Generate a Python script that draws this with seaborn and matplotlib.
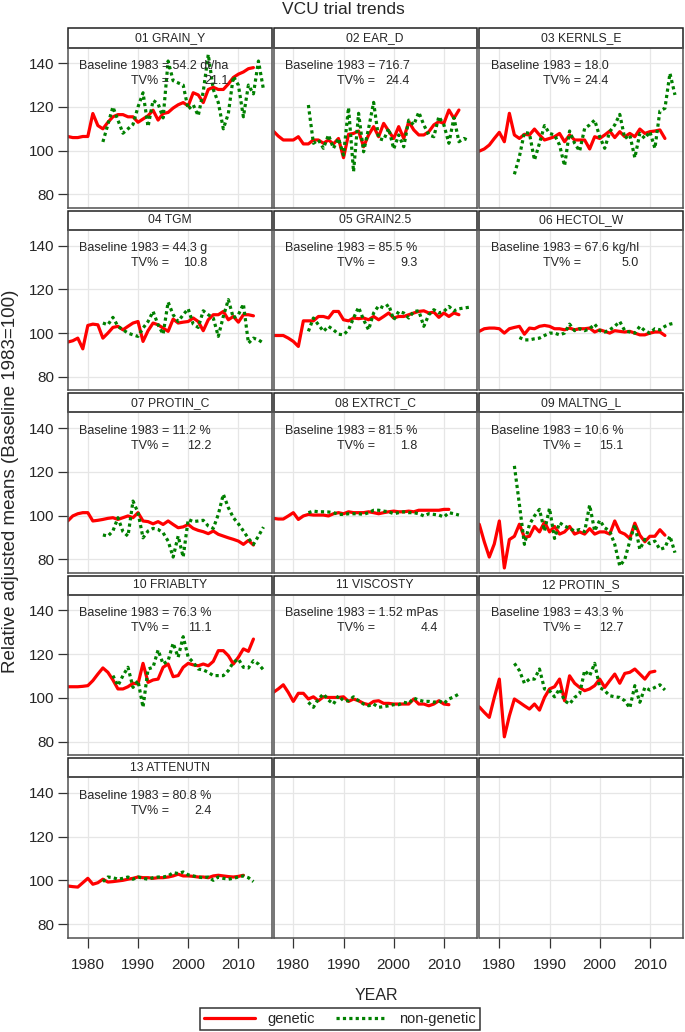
import numpy as np
import pandas as pd
import matplotlib
matplotlib.use("Agg")
import matplotlib.pyplot as plt
from matplotlib.lines import Line2D
from matplotlib.patches import Rectangle
import seaborn as sns

panel_names = ["01 GRAIN_Y", "02 EAR_D", "03 KERNLS_E", "04 TGM", "05 GRAIN2.5",
               "06 HECTOL_W", "07 PROTIN_C", "08 EXTRCT_C", "09 MALTNG_L",
               "10 FRIABLTY", "11 VISCOSTY", "12 PROTIN_S", "13 ATTENUTN"]
baselines = ["54.2 dt/ha", "716.7", "18.0", "44.3 g", "85.5 %", "67.6 kg/hl", "11.2 %",
             "81.5 %", "10.6 %", "76.3 %", "1.52 mPas", "43.3 %", "80.8 %"]
tv_values = ["21.1", "24.4", "24.4", "10.8", "9.3", "5.0", "12.2", "1.8", "15.1",
             "11.1", "4.4", "12.7", "2.4"]

# first year of each series
genetic_start = [1976, 1976, 1976, 1976, 1976, 1976, 1976, 1976, 1976, 1976, 1976, 1976, 1976]
nongenetic_start = [1983, 1983, 1983, 1983, 1983, 1984, 1983, 1983, 1983, 1985, 1983, 1983, 1983]

g01 = [106.5, 106, 106, 106.5, 106.5, 117, 111.5, 110, 113, 115.5, 116.5, 116.5, 115.5, 115.5,
       113, 114.5, 116, 118.5, 114, 117, 117.5, 119.5, 121, 122, 120.5, 126.5, 125.5, 122,
       128, 129, 128, 128, 130.5, 133.5, 135, 136, 137.5, 138]
n01 = [104, 112, 120, 114, 108, 110, 112, 120, 126.5, 111, 123, 121.5, 115, 141, 132, 131,
       130, 119, 121, 116, 127, 144, 128, 122, 110, 117, 134, 130, 115.5, 130, 126, 141, 128]
g02 = [109.0, 106.7, 104.9, 104.9, 104.9, 106.4, 103.1, 103.1, 104.9, 104.9, 103.4, 104.9,
       103.1, 105.6, 96.8, 107.5, 107.9, 109.0, 101.8, 107.2, 111.0, 106.4, 112.5, 109.0,
       105.6, 111.0, 105.6, 113.3, 109.5, 107.2, 107.2, 108.7, 111.8, 113.3, 112.5, 118.6,
       114.8, 118.6]
n02 = [120.9, 103.4, 104.9, 101.1, 107.2, 101.1, 105.6, 98.0, 119.7, 90.4, 117.1, 99.5,
       110.2, 122.1, 105.6, 104.9, 110.2, 100.8, 107.2, 101.8, 114.0, 111.8, 117.6, 111.8,
       107.2, 106.4, 115.6, 111.8, 103.4, 115.1, 104.1, 105.6, 104.6]
g03 = [99.8, 100.8, 102.6, 105.6, 108.4, 104.1, 117.1, 107.2, 105.6, 107.5, 107.2, 109.9,
       107.2, 104.9, 105.6, 106.4, 107.9, 104.1, 107.2, 104.9, 104.9, 104.9, 100.8, 106.4,
       105.6, 107.2, 109.0, 106.0, 108.7, 106.4, 107.9, 106.4, 109.9, 107.9, 108.7, 109.0,
       109.5, 105.6]
n03 = [89.2, 97.3, 108.4, 107.9, 95.7, 103.4, 111.5, 107.9, 107.2, 102.6, 93.1, 109.0,
       103.4, 99.8, 110.2, 111.8, 114.0, 106.4, 101.1, 108.7, 111.8, 116.6, 105.6, 107.2,
       96.8, 107.9, 105.6, 108.7, 101.1, 118.2, 119.4, 135.4, 125.5]
g04 = [95.9, 96.5, 97.7, 92.8, 103.5, 104.1, 103.8, 97.7, 100.0, 102.6, 103.1, 101.5, 103.1,
       104.6, 105.3, 96.2, 101.1, 104.6, 103.8, 102.3, 100.8, 106.4, 104.6, 105.0, 105.3,
       106.9, 105.3, 101.1, 106.1, 108.4, 108.4, 109.9, 106.1, 107.6, 105.0, 108.4, 108.4,
       107.9]
n04 = [104.6, 103.8, 107.2, 103.1, 101.5, 100.0, 99.2, 98.5, 102.3, 105.3, 109.9, 103.8,
       99.5, 114.2, 108.4, 105.3, 108.4, 111.1, 104.1, 102.6, 110.2, 108.4, 106.9, 98.5,
       107.6, 115.3, 106.9, 108.4, 113.3, 95.4, 97.7, 96.9, 95.4]
g05 = [98.9, 98.9, 98.9, 97.7, 96.2, 93.9, 105.6, 105.6, 105.6, 107.6, 107.6, 106.9, 109.9,
       109.9, 106.1, 105.6, 106.9, 106.6, 106.9, 106.1, 107.6, 106.1, 107.6, 109.2, 106.9,
       107.6, 107.6, 108.4, 109.2, 109.9, 110.2, 109.2, 109.6, 107.2, 109.2, 107.6, 109.2,
       108.4]
n05 = [100.8, 106.9, 103.8, 100.8, 103.1, 101.5, 99.5, 99.2, 101.5, 106.9, 111.8, 106.1,
       101.5, 109.2, 112.5, 111.5, 113.0, 106.1, 109.9, 109.2, 106.9, 109.9, 110.2, 103.1,
       108.4, 110.7, 109.2, 109.9, 112.2, 110.2, 111.1, 111.5, 111.8]
g06 = [100.8, 102.0, 102.3, 102.3, 102.0, 100.0, 102.0, 102.6, 103.1, 99.5, 102.3, 102.0,
       103.1, 103.5, 103.1, 102.0, 102.0, 101.5, 102.3, 101.5, 102.0, 102.0, 102.3, 100.5,
       101.5, 100.8, 100.0, 101.1, 100.8, 100.5, 100.8, 100.0, 99.2, 99.2, 100.0, 100.5,
       100.5, 98.9]
n06 = [98.0, 96.9, 96.9, 97.4, 97.7, 98.9, 100.0, 100.0, 99.2, 100.0, 104.1, 101.1, 102.0,
       101.1, 102.0, 104.1, 101.1, 100.5, 101.5, 103.1, 105.3, 101.1, 100.5, 100.0, 103.1,
       101.1, 100.0, 102.0, 101.5, 103.1, 104.1, 104.6]
g07 = [97.5, 99.8, 100.8, 101.3, 101.3, 97.5, 97.8, 98.2, 98.7, 99.0, 98.2, 99.0, 99.8, 99.0,
       101.3, 97.5, 97.2, 96.2, 97.2, 95.9, 97.5, 95.9, 94.4, 94.8, 95.9, 94.1, 93.2, 92.6,
       91.7, 92.9, 91.4, 90.6, 89.8, 89.1, 88.3, 86.8, 88.6, 86.5]
n07 = [91.1, 90.6, 92.9, 99.0, 92.6, 90.6, 106.6, 101.3, 89.8, 92.9, 94.1, 93.6, 92.1, 88.3,
       81.0, 90.6, 81.0, 98.2, 97.2, 97.5, 97.8, 95.2, 94.1, 100.5, 109.7, 103.6, 99.0, 96.2,
       92.9, 89.5, 86.8, 90.6, 94.7]
g08 = [98.7, 98.4, 98.4, 99.8, 101.3, 98.2, 99.8, 100.5, 100.2, 100.2, 100.2, 99.8, 100.8,
       101.3, 100.8, 101.7, 101.3, 101.3, 101.3, 101.7, 101.3, 100.8, 101.3, 101.7, 102.0,
       101.7, 101.7, 102.0, 101.7, 102.4, 102.4, 102.4, 102.4, 102.4, 102.8, 102.8]
n08 = [101.3, 102.0, 101.7, 101.7, 101.6, 101.3, 100.5, 100.5, 100.8, 100.8, 100.8, 100.5,
       101.3, 102.4, 102.4, 102.0, 101.7, 100.8, 101.3, 101.7, 101.3, 101.3, 100.8, 99.8,
       100.8, 100.5, 100.2, 99.3, 101.3, 100.8, 100.2]
g09 = [96, 88, 81, 87, 97.5, 76, 89, 90.5, 96, 90, 90.5, 95, 92.5, 97, 92.5, 95, 91.5, 92.5,
       95, 91.5, 92.5, 91.5, 94, 91.5, 92.5, 92.5, 91.5, 97.5, 92.5, 91.5, 89.5, 96.5, 91, 88,
       90.5, 90.5, 93.5, 91]
n09 = [122.7, 105.1, 86.8, 95.9, 99.8, 102.8, 92.9, 103.3, 89.5, 96.7, 95.2, 94.1, 92.9, 93.6,
       92.6, 104.8, 92.9, 97.8, 94.4, 92.9, 86.8, 76.9, 79.9, 88.3, 95.9, 84.5, 89.1, 87.1,
       88.3, 84.5, 85.3, 90.6, 83.0]
g10 = [105.1, 105.1, 105.1, 105.3, 105.6, 107.9, 110.9, 113.7, 111.7, 108.2, 104.1, 104.1,
       105.1, 106.7, 106.4, 115.8, 107.1, 108.2, 108.6, 114.0, 115.5, 109.7, 110.2, 114.0,
       115.8, 115.1, 114.7, 115.5, 114.7, 116.7, 121.6, 121.6, 119.3, 115.5, 118.6, 122.4,
       121.3, 126.9]
n10 = [110.2, 105.6, 110.2, 114.0, 104.8, 107.9, 95.7, 113.2, 114.0, 121.9, 115.5, 117.0,
       125.0, 118.6, 128.0, 118.6, 116.3, 113.2, 112.8, 111.7, 110.2, 110.2, 110.2, 112.5,
       116.3, 117.8, 114.0, 113.7, 117.0, 115.5, 112.8]
g11 = [102.5, 104.1, 106.0, 102.5, 98.4, 102.1, 102.1, 99.5, 100.5, 98.7, 100.5, 100.2, 100.2,
       100.2, 100.5, 98.4, 99.5, 98.7, 97.5, 96.9, 98.4, 98.7, 97.5, 97.5, 97.2, 97.2, 97.2,
       97.2, 99.5, 97.2, 97.2, 96.4, 97.2, 98.7, 97.2, 96.9]
n11 = [98.0, 95.7, 99.5, 101.8, 99.0, 97.2, 101.0, 98.7, 98.7, 100.5, 98.7, 97.2, 96.4, 97.2,
       95.7, 96.0, 96.4, 96.9, 96.9, 98.0, 97.5, 99.9, 99.0, 98.4, 98.4, 98.0, 98.7, 97.5,
       99.5, 100.5, 101.8]
g12 = [95.9, 93.4, 91.1, 100.2, 108.6, 82.2, 91.8, 99.5, 98.0, 96.4, 94.9, 97.2, 94.4, 100.2,
       104.1, 105.1, 108.6, 98.7, 110.1, 106.7, 104.8, 103.3, 104.1, 105.6, 108.6, 104.8,
       107.9, 110.9, 106.7, 111.2, 111.7, 113.2, 110.9, 108.6, 111.7, 112.2]
n12 = [115.8, 112.5, 106.7, 108.6, 108.6, 113.2, 104.1, 103.3, 100.5, 104.1, 98.7, 97.2,
       100.2, 101.8, 112.5, 110.1, 115.8, 104.8, 103.3, 101.0, 100.5, 100.2, 98.7, 95.4,
       105.6, 98.0, 104.8, 103.6, 104.8, 106.0, 103.6]
g13 = [97.4, 97.1, 96.9, 98.9, 100.9, 98.2, 98.9, 100.5, 99.2, 99.4, 99.7, 100.0, 100.5,
       100.9, 101.5, 101.2, 101.2, 100.9, 101.2, 101.2, 101.5, 102.0, 102.8, 102.0, 102.0,
       101.8, 101.5, 101.5, 101.2, 102.0, 102.3, 102.0, 101.7, 101.5, 101.8, 102.3]
n13 = [99.4, 101.5, 101.2, 100.5, 100.9, 101.5, 100.5, 101.5, 100.9, 100.5, 101.2, 101.5,
       101.5, 102.0, 103.5, 103.1, 103.8, 102.5, 102.0, 101.5, 101.2, 101.5, 100.0, 101.5,
       100.9, 100.5, 100.9, 101.5, 102.0, 101.2, 99.4]

genetic_values = [g01, g02, g03, g04, g05, g06, g07, g08, g09, g10, g11, g12, g13]
nongenetic_values = [n01, n02, n03, n04, n05, n06, n07, n08, n09, n10, n11, n12, n13]

rows = []
for i, name in enumerate(panel_names):
    for kind, start, vals in (("genetic", genetic_start[i], genetic_values[i]),
                              ("non-genetic", nongenetic_start[i], nongenetic_values[i])):
        for j, v in enumerate(vals):
            rows.append((name, kind, start + j, v))
df = pd.DataFrame(rows, columns=["trait", "type", "year", "value"])

sns.set_style("white")
plt.rcParams["font.family"] = ["Liberation Sans", "DejaVu Sans"]

W, H = 685, 1032
fig = plt.figure(figsize=(W / 100, H / 100), dpi=100)

col_left = [68, 273.5, 479.5]
panel_w = 203.5
row_step = 182.4
panel_top0 = 47.7
panel_bot0 = 208
strip_px = 19.4
panel_h = panel_bot0 - panel_top0
palette = {"genetic": "#ff0000", "non-genetic": "#008000"}
dashes = {"genetic": "", "non-genetic": (1, 1)}

axes = []
for k in range(15):
    r, c = divmod(k, 3)
    bottom = panel_bot0 + r * row_step
    ax = fig.add_axes([col_left[c] / W, 1 - bottom / H, panel_w / W, panel_h / H])
    axes.append(ax)
    ax.set_xlim(1976.05, 2016.6)
    ax.set_ylim(73.8, 147.1)
    ax.set_xticks([1980, 1990, 2000, 2010])
    ax.set_yticks([80, 100, 120, 140])
    ax.grid(True, color="#e6e6e6", lw=0.9)
    ax.set_axisbelow(True)
    for s in ax.spines.values():
        s.set_color("#505050")
        s.set_linewidth(1.1)
    ax.tick_params(axis="both", direction="out", length=7, width=0.9, color="#333333",
                   labelsize=11, pad=3)
    ax.tick_params(axis="y", left=(c == 0), labelleft=(c == 0))
    ax.tick_params(axis="x", bottom=(r == 4), labelbottom=(r == 4), pad=8)
    sh = strip_px / panel_h
    ax.add_patch(Rectangle((0, 1), 1, sh, transform=ax.transAxes, clip_on=False,
                           facecolor="white", edgecolor="#202020", lw=1.1))
    if k < 13:
        ax.text(0.5, 1 + sh / 2, panel_names[k], transform=ax.transAxes, ha="center",
                va="center", fontsize=8.7)
        sub = df[df["trait"] == panel_names[k]]
        sns.lineplot(data=sub, x="year", y="value", hue="type", style="type",
                     palette=palette, dashes=dashes, linewidth=2.3, legend=False,
                     errorbar=None, ax=ax)
    ax.set_xlabel("")
    ax.set_ylabel("")

# baseline / TV% annotations, aligned on the "=" and on the right end
fig.canvas.draw()
renderer = fig.canvas.get_renderer()
for k in range(13):
    ax = axes[k]
    inv = ax.transAxes.inverted()
    t1 = ax.text(0.055, 0.886, "Baseline 1983 =", transform=ax.transAxes, ha="left",
                 va="center", fontsize=9)
    x_eq = inv.transform((t1.get_window_extent(renderer).x1, 0))[0]
    t2 = ax.text(x_eq, 0.886, " " + baselines[k], transform=ax.transAxes, ha="left",
                 va="center", fontsize=9)
    x_end = inv.transform((t2.get_window_extent(renderer).x1, 0))[0]
    ax.text(x_eq, 0.792, "TV% =", transform=ax.transAxes, ha="right", va="center",
            fontsize=9)
    ax.text(x_end, 0.792, tv_values[k], transform=ax.transAxes, ha="right", va="center",
            fontsize=9)

fig.text(343 / W, 1 - 10 / H, "VCU trial trends", ha="center", va="center", fontsize=12.5)
fig.text(11 / W, 1 - 481 / H, "Relative adjusted means (Baseline 1983=100)", rotation=90,
         ha="center", va="center", fontsize=13.5)
fig.text(376 / W, 1 - 995 / H, "YEAR", ha="center", va="center", fontsize=11.5)

handles = [Line2D([], [], color="#ff0000", lw=2.3),
           Line2D([], [], color="#008000", lw=2.3, linestyle=(0, (1, 1)))]
leg = fig.legend(handles, ["genetic", "non-genetic"], loc="center",
                 bbox_to_anchor=(340 / W, 1 - 1019 / H), ncol=2, frameon=True,
                 fancybox=False, edgecolor="black", fontsize=10.5, handlelength=3.5,
                 borderpad=0.3, columnspacing=1.5)
leg.get_frame().set_linewidth(1.1)

fig.savefig("out.png", dpi=100, facecolor="white")
